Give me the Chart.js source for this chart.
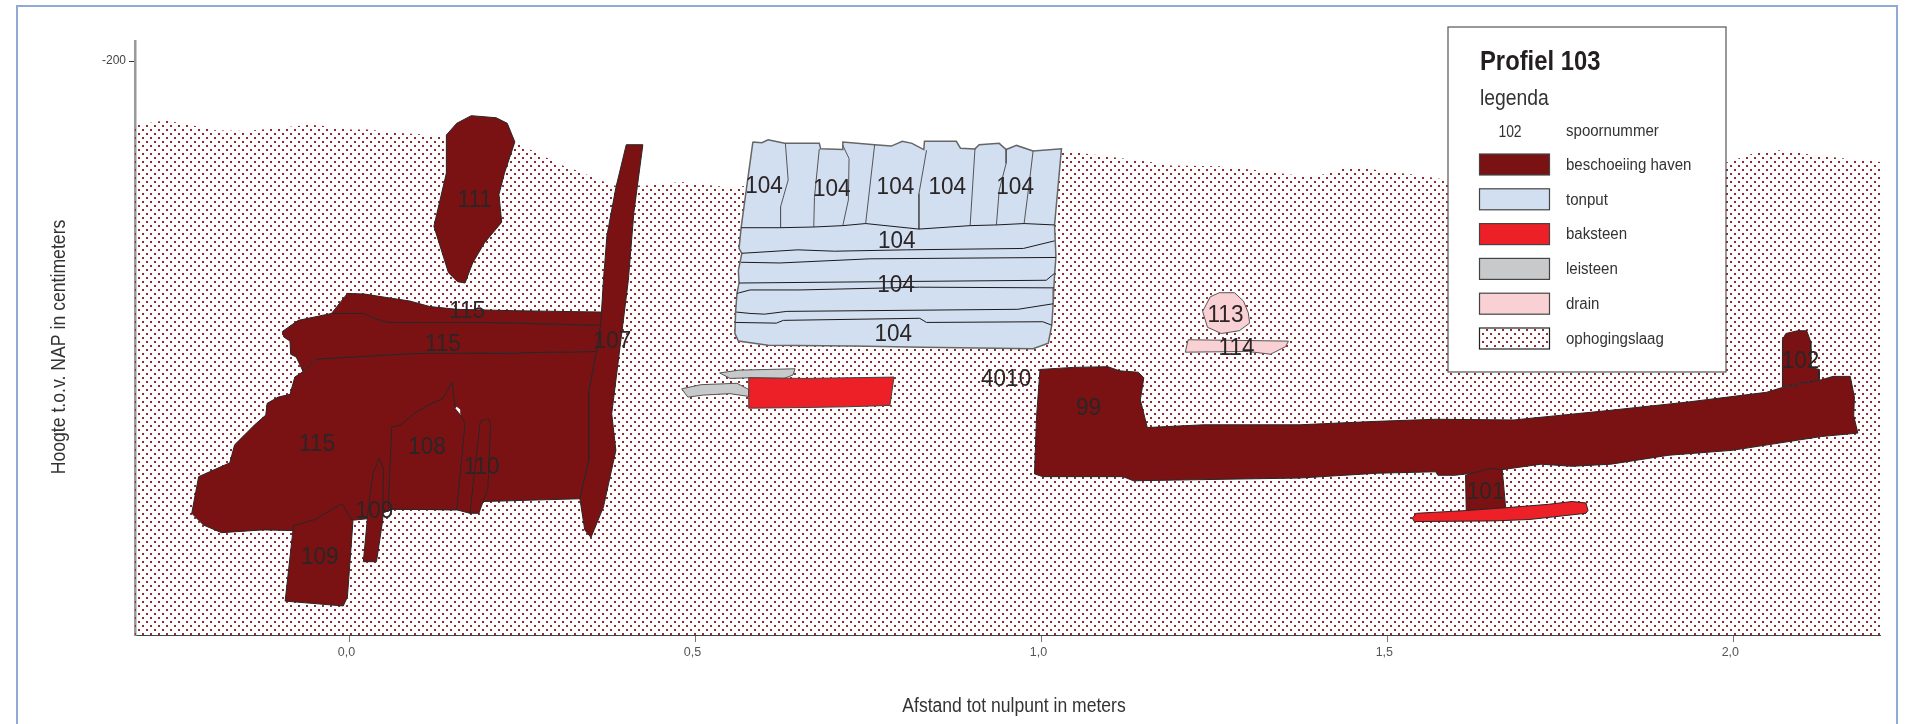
<!DOCTYPE html>
<html>
<head>
<meta charset="utf-8">
<title>Profiel 103</title>
<script src="https://cdn.jsdelivr.net/npm/chart.js@4"></script>
<style>
  html, body { margin: 0; background: #fff; overflow: hidden; }
  #kader { position: absolute; left: 16px; top: 5px; width: 1878px; height: 800px; border: 2px solid #8fabd5; }
  #myChart { position: absolute; left: 0; top: 0; }
</style>
</head>
<body>
<div id="kader"></div>
<canvas id="myChart" width="1910" height="724"></canvas>
<script>
// x in meters tot nulpunt, y in cm t.o.v. NAP
const xTicks = [0, 0.5, 1, 1.5, 2];
const xTickLabels = ["0,0", "0,5", "1,0", "1,5", "2,0"];
const yTicks = [-200];
const yTickLabels = ["-200"];

const ophogingslaag = [[-0.310,-209.3],[-0.274,-208.7],[-0.264,-208.6],[-0.245,-209.0],[-0.223,-209.4],[-0.197,-210.0],[-0.148,-210.1],[-0.115,-209.8],[-0.075,-209.4],[-0.057,-209.2],[-0.036,-209.4],[-0.004,-209.9],[0.029,-209.9],[0.054,-210.3],[0.102,-210.6],[0.141,-211.0],[0.239,-211.9],[0.249,-212.2],[0.271,-213.3],[0.287,-214.1],[0.308,-215.1],[0.333,-216.0],[0.352,-216.8],[0.381,-218.0],[0.431,-218.0],[0.479,-217.5],[0.550,-218.3],[1.031,-213.3],[1.055,-213.3],[1.074,-213.5],[1.118,-214.1],[1.157,-214.6],[1.186,-215.1],[1.258,-215.2],[1.311,-215.8],[1.359,-216.4],[1.388,-216.8],[1.417,-216.2],[1.435,-215.6],[1.456,-215.3],[1.493,-215.9],[1.537,-216.4],[1.587,-217.2],[1.989,-214.7],[2.034,-213.2],[2.068,-212.9],[2.116,-213.6],[2.161,-214.1],[2.212,-214.6],[2.212,-283],[-0.310,-283],[-0.310,-209.3]];

const spoor115boven = [[-0.026,-236.5],[-0.003,-233.6],[0.022,-233.7],[0.054,-234.2],[0.087,-234.7],[0.116,-235.5],[0.155,-235.9],[0.237,-236.1],[0.366,-236.3],[0.363,-238.2],[0.198,-237.8],[0.056,-237.8],[0.039,-237.3],[0.020,-236.5],[-0.026,-236.5]];
const spoor115midden = [[-0.097,-239.1],[-0.074,-237.5],[-0.026,-236.5],[0.020,-236.5],[0.039,-237.3],[0.056,-237.8],[0.198,-237.8],[0.363,-238.2],[0.357,-242.0],[0.237,-242.2],[0.092,-242.3],[-0.049,-243.1],[-0.067,-244.9],[-0.077,-242.8],[-0.085,-242.4],[-0.086,-240.5],[-0.095,-239.9],[-0.097,-239.1]];
const spoor115onder = [[-0.049,-243.1],[0.092,-242.3],[0.237,-242.2],[0.357,-242.0],[0.346,-247.8],[0.346,-257.7],[0.333,-263.3],[0.193,-263.7],[0.174,-265.4],[0.155,-264.9],[0.063,-264.8],[0.025,-266.2],[0.005,-266.4],[-0.081,-267.9],[-0.125,-267.8],[-0.185,-268.2],[-0.211,-267.1],[-0.228,-265.4],[-0.218,-260.1],[-0.173,-258.1],[-0.166,-255.5],[-0.137,-252.6],[-0.121,-251.2],[-0.119,-249.5],[-0.103,-248.6],[-0.086,-248.2],[-0.079,-245.7],[-0.067,-244.9],[-0.049,-243.1]];
const spoor108 = [[0.061,-252.9],[0.073,-252.7],[0.097,-250.7],[0.119,-249.5],[0.135,-248.8],[0.148,-246.4],[0.153,-250.2],[0.162,-251.4],[0.167,-252.4],[0.155,-264.9],[0.063,-264.8],[0.056,-264.5],[0.061,-252.9]];
const gaatje108 = [[0.153,-250.2],[0.161,-251.2],[0.160,-250.4],[0.155,-250.0],[0.153,-250.2]];
const spoor110 = [[0.189,-252.1],[0.201,-251.7],[0.204,-252.5],[0.200,-261.8],[0.187,-265.4],[0.174,-265.4],[0.189,-252.1]];
const spoor109smal = [[0.043,-257.4],[0.049,-258.9],[0.048,-266.4],[0.039,-272.4],[0.020,-272.4],[0.027,-264.9],[0.034,-259.6],[0.043,-257.4]];
const spoor109 = [[-0.081,-267.2],[-0.050,-266.3],[-0.011,-264.0],[0.005,-266.6],[-0.003,-277.5],[-0.009,-278.8],[-0.093,-278.1],[-0.081,-267.2]];
const spoor107 = [[0.400,-212.1],[0.424,-212.1],[0.411,-221.9],[0.403,-231.7],[0.379,-251.0],[0.385,-256.3],[0.367,-264.5],[0.349,-268.9],[0.340,-267.8],[0.333,-263.3],[0.346,-257.7],[0.346,-247.8],[0.357,-242.0],[0.363,-238.2],[0.367,-231.7],[0.372,-225.3],[0.385,-218.3],[0.400,-212.1]];
const spoor111 = [[0.140,-210.7],[0.155,-209.0],[0.176,-207.9],[0.212,-208.2],[0.228,-209.0],[0.239,-211.7],[0.224,-216.2],[0.216,-219.3],[0.220,-223.3],[0.195,-226.3],[0.178,-229.2],[0.167,-232.1],[0.156,-231.9],[0.143,-230.6],[0.122,-223.9],[0.140,-216.2],[0.140,-210.7]];
const spoor99 = [[0.998,-244.6],[1.046,-244.3],[1.096,-244.2],[1.113,-244.8],[1.140,-245.0],[1.148,-245.8],[1.143,-249.0],[1.153,-253.0],[1.234,-252.6],[1.373,-252.6],[1.486,-252.1],[1.570,-251.8],[1.683,-251.9],[1.823,-250.5],[1.935,-249.3],[2.048,-247.9],[2.071,-247.2],[2.127,-246.1],[2.144,-245.6],[2.169,-245.6],[2.175,-248.6],[2.174,-251.3],[2.180,-253.8],[2.127,-254.3],[1.998,-256.3],[1.907,-257.0],[1.823,-258.3],[1.767,-258.6],[1.722,-258.3],[1.665,-259.1],[1.598,-259.9],[1.573,-259.9],[1.570,-259.4],[1.486,-259.6],[1.373,-260.3],[1.133,-260.7],[1.118,-260.1],[1.002,-260.1],[0.990,-259.7],[0.993,-251.4],[0.998,-244.6]];
const spoor101 = [[1.613,-259.9],[1.649,-258.9],[1.666,-259.1],[1.671,-264.6],[1.614,-265.0],[1.613,-259.9]];
const spoor102 = [[2.071,-240.3],[2.076,-239.4],[2.093,-239.0],[2.106,-239.0],[2.112,-240.6],[2.112,-244.3],[2.124,-244.6],[2.124,-246.1],[2.071,-247.1],[2.071,-240.3]];

const tonput = [[0.583,-211.7],[0.596,-211.8],[0.605,-211.4],[0.629,-211.9],[0.679,-211.9],[0.681,-212.7],[0.713,-212.8],[0.713,-211.7],[0.759,-212.1],[0.783,-212.3],[0.799,-211.6],[0.813,-211.9],[0.830,-212.8],[0.831,-211.6],[0.877,-211.6],[0.883,-212.6],[0.904,-212.7],[0.910,-212.1],[0.939,-211.9],[0.949,-212.8],[0.964,-212.2],[0.988,-213.0],[1.029,-212.7],[1.019,-223.7],[1.021,-228.3],[1.019,-231.0],[1.018,-232.9],[1.017,-235.1],[1.015,-238.2],[1.010,-240.8],[0.988,-241.6],[0.829,-241.4],[0.728,-241.2],[0.605,-241.1],[0.562,-240.5],[0.557,-239.4],[0.558,-236.3],[0.560,-233.6],[0.563,-232.1],[0.562,-230.3],[0.567,-227.8],[0.563,-227.1],[0.566,-224.1],[0.583,-211.7]];
const tonputLagen = [
  [[0.566,-224.1],[0.623,-224.1],[0.671,-224.0],[0.713,-223.8],[0.746,-223.5],[0.823,-224.3],[0.897,-223.8],[0.935,-223.7],[0.975,-223.5],[1.019,-223.7]],
  [[0.567,-227.8],[0.648,-227.3],[0.701,-227.5],[0.805,-227.3],[0.974,-227.1],[1.019,-226.0]],
  [[0.566,-229.1],[0.622,-229.2],[0.752,-228.6],[1.021,-228.4]],
  [[0.563,-232.1],[0.776,-231.9],[1.007,-231.7],[1.019,-230.7]],
  [[0.560,-233.6],[0.579,-233.1],[0.651,-233.1],[0.824,-232.7],[1.018,-232.8]],
  [[0.559,-236.3],[0.579,-236.5],[0.600,-236.6],[0.632,-236.2],[0.966,-235.9],[1.017,-235.1]],
  [[0.558,-237.8],[0.617,-237.9],[0.627,-237.5],[0.824,-237.2],[0.834,-237.8],[1.002,-237.7],[1.015,-238.2]]
];
const tonputDuigen = [
  [[0.630,-211.9],[0.634,-217.2],[0.623,-221.1],[0.623,-224.1]],
  [[0.679,-212.7],[0.672,-219.7],[0.671,-224.0]],
  [[0.713,-212.2],[0.722,-214.1],[0.721,-220.1],[0.713,-223.8]],
  [[0.759,-212.1],[0.746,-223.5]],
  [[0.834,-212.9],[0.823,-219.2],[0.823,-224.3]],
  [[0.904,-212.7],[0.897,-223.8]],
  [[0.949,-212.8],[0.949,-214.8],[0.939,-218.7],[0.935,-223.7]],
  [[0.988,-213.0],[0.983,-217.2],[0.975,-223.5]]
];

const baksteen1 = [[0.577,-245.8],[0.660,-245.9],[0.787,-245.7],[0.781,-249.8],[0.718,-250.0],[0.660,-250.1],[0.577,-250.2],[0.577,-245.8]];
const baksteen2 = [[1.536,-266.1],[1.542,-265.4],[1.615,-265.0],[1.671,-264.6],[1.733,-264.1],[1.767,-263.7],[1.787,-263.9],[1.790,-265.0],[1.787,-265.4],[1.705,-266.3],[1.655,-266.5],[1.539,-266.6],[1.536,-266.1]];
const leisteen1 = [[0.535,-245.1],[0.563,-244.7],[0.644,-244.5],[0.641,-245.4],[0.628,-245.9],[0.579,-245.8],[0.550,-245.9],[0.535,-245.1]];
const leisteen2 = [[0.480,-247.4],[0.508,-246.8],[0.560,-246.6],[0.577,-247.5],[0.577,-248.5],[0.550,-248.1],[0.512,-248.3],[0.489,-248.6],[0.480,-247.4]];
const drain113 = [[1.233,-236.2],[1.244,-234.1],[1.257,-233.5],[1.279,-233.5],[1.292,-234.7],[1.299,-236.4],[1.301,-237.9],[1.286,-239.0],[1.260,-239.4],[1.240,-238.5],[1.233,-236.2]];
const drain114 = [[1.212,-240.3],[1.357,-240.5],[1.353,-241.3],[1.331,-242.4],[1.299,-242.0],[1.208,-242.1],[1.212,-240.3]];

const spoorNummers = ["111","115","115","115","108","110","109","109","107","104","104","104","104","104","104","104","104","4010","99","113","114","101","102"];
const spoorX = [0.181,0.170,0.135,-0.047,0.112,0.191,0.036,-0.043,0.380,0.599,0.697,0.789,0.864,0.962,0.791,0.790,0.786,0.949,1.068,1.266,1.282,1.642,2.097];
const spoorY = [-219.9,-235.9,-240.6,-255.1,-255.5,-258.5,-264.8,-271.4,-240.2,-217.8,-218.2,-218.0,-218.0,-218.0,-225.8,-232.1,-239.2,-245.7,-249.9,-236.4,-241.3,-262.0,-243.1];

const legendaNamen = ["beschoeiing haven","tonput","baksteen","leisteen","drain","ophogingslaag"];

const ROOD = '#7a1214', BLAUW = '#d2dff0', STEEN = '#ee2027', GRIJS = '#c8c9cb', ROZE = '#f9d0d3';
const LIJN = '#2b2526';
const FONT = '"Liberation Sans", Arial, sans-serif';
const SMAL = '"Liberation Sans Narrow", "Liberation Sans", Arial, sans-serif';

// stippelpatroon van de ophogingslaag
function maakPatroon()
{
  var tegel = document.createElement('canvas');
  tegel.width = 8;
  tegel.height = 8;
  var c = tegel.getContext('2d');
  c.fillStyle = '#8f2b31';
  c.fillRect(6, 1, 2, 2);
  c.fillRect(2, 5, 2, 2);
  return c.createPattern(tegel, 'repeat');
}
const patroon = maakPatroon();

function vlak(data, kleur, dikte, rand)
{
  return { data: data, showLine: true, fill: 'shape', backgroundColor: kleur, borderColor: rand || LIJN, borderWidth: dikte === undefined ? 1 : dikte, pointRadius: 0, tension: 0 };
}
function lijn(data, kleur)
{
  return { data: data, showLine: true, fill: false, borderColor: kleur, borderWidth: 1, pointRadius: 0, tension: 0 };
}

// van onder naar boven getekend
var lagen = [
  vlak(ophogingslaag, patroon, 0),
  vlak(spoor115onder, ROOD), vlak(spoor115midden, ROOD), vlak(spoor115boven, ROOD),
  vlak(spoor108, ROOD), vlak(gaatje108, '#fff', 0), vlak(spoor110, ROOD), vlak(spoor109smal, ROOD), vlak(spoor109, ROOD),
  vlak(spoor107, ROOD), vlak(spoor111, ROOD),
  vlak(tonput, BLAUW, 1.5, '#666')
];
tonputDuigen.forEach(function(l) { lagen.push(lijn(l, '#555')); });
tonputLagen.forEach(function(l) { lagen.push(lijn(l, '#1c1a1b')); });
lagen.push(vlak(leisteen1, GRIJS, 1, '#555'), vlak(leisteen2, GRIJS, 1, '#555'), vlak(baksteen1, STEEN, 1, '#444'));
lagen.push(vlak(drain113, ROZE, 1, '#555'), vlak(drain114, ROZE, 1, '#555'));
lagen.push(vlak(spoor99, ROOD), vlak(spoor101, ROOD), vlak(spoor102, ROOD), vlak(baksteen2, STEEN));

// y is het midden van de cijfers, factor maakt de letters smaller
function tekst(ctx, s, x, y, maat, kleur, align, factor, vet)
{
  ctx.font = (vet ? 'bold ' : '') + maat + 'px ' + FONT;
  ctx.fillStyle = kleur;
  ctx.textAlign = align || 'left';
  ctx.textBaseline = 'alphabetic';
  ctx.fillText(s, x, y + 0.358 * maat, ctx.measureText(s).width * (factor || 1));
}

const profielPlugin = {
  id: 'profiel',
  afterDraw(chart) {
    var ctx = chart.ctx;
    var sx = chart.scales.x, sy = chart.scales.y;
    ctx.save();

    // spoornummers
    spoorNummers.forEach(function(n, i) {
      tekst(ctx, n, sx.getPixelForValue(spoorX[i]), sy.getPixelForValue(spoorY[i]), 24.5, '#2b2526', 'center', 0.92);
    });

    // astitels
    tekst(ctx, 'Afstand tot nulpunt in meters', 1014, 705, 19.5, '#333', 'center', 0.9);
    ctx.save();
    ctx.translate(58, 347);
    ctx.rotate(-Math.PI / 2);
    tekst(ctx, 'Hoogte t.o.v. NAP in centimeters', 0, 0, 19.5, '#333', 'center', 0.905);
    ctx.restore();

    // legenda
    ctx.fillStyle = '#fff';
    ctx.fillRect(1448, 27, 278, 345);
    ctx.strokeStyle = '#555';
    ctx.lineWidth = 1.2;
    ctx.strokeRect(1448, 27, 278, 345);
    tekst(ctx, 'Profiel 103', 1480, 60, 28, '#231f20', 'left', 0.85, true);
    tekst(ctx, 'legenda', 1480, 97, 21.5, '#333', 'left', 0.9);
    tekst(ctx, '102', 1510, 131, 16, '#333', 'center', 0.87);
    tekst(ctx, 'spoornummer', 1566, 130, 16, '#333', 'left', 0.94);
    var kleuren = [ROOD, BLAUW, STEEN, GRIJS, ROZE, patroon];
    legendaNamen.forEach(function(naam, i) {
      var y = 154 + i * 34.8;
      ctx.fillStyle = '#fff';
      ctx.fillRect(1479.5, y, 70, 21);
      ctx.fillStyle = kleuren[i];
      ctx.fillRect(1479.5, y, 70, 21);
      ctx.strokeStyle = i === 5 ? '#222' : '#444';
      ctx.lineWidth = 1.2;
      ctx.strokeRect(1479.5, y, 70, 21);
      tekst(ctx, naam, 1566, y + 10, 16, '#333', 'left', 0.94);
    });
    ctx.restore();
  }
};

var chart = new Chart(document.getElementById('myChart').getContext('2d'), {
  type: 'scatter',
  data: { datasets: lagen.reverse() },
  plugins: [profielPlugin],
  options: {
    responsive: false,
    animation: false,
    events: [],
    layout: { padding: { left: 0, top: 41, right: 30, bottom: 0 } },
    plugins: { legend: { display: false }, tooltip: { enabled: false } },
    scales: {
      x: {
        type: 'linear', min: -0.31, max: 2.212,
        afterBuildTicks: function(s) { s.ticks = xTicks.map(function(v) { return { value: v }; }); },
        afterFit: function(s) { s.height = 89; },
        grid: { drawOnChartArea: false, tickLength: 7, tickColor: '#777' },
        border: { color: '#444', width: 1 },
        ticks: { maxRotation: 0, autoSkip: false, padding: 3, labelOffset: -3, color: '#555', font: { family: SMAL, size: 12.5 },
          callback: function(v, i) { return xTickLabels[i]; } }
      },
      y: {
        type: 'linear', min: -283, max: -197.1,
        afterBuildTicks: function(s) { s.ticks = yTicks.map(function(v) { return { value: v }; }); },
        afterFit: function(s) { s.width = 135; },
        grid: { drawOnChartArea: false, tickLength: 6, tickColor: '#333' },
        border: { color: '#999', width: 2.5 },
        ticks: { padding: 3, color: '#444', font: { family: SMAL, size: 12 },
          callback: function(v, i) { return yTickLabels[i]; } }
      }
    }
  }
});
</script>
</body>
</html>
